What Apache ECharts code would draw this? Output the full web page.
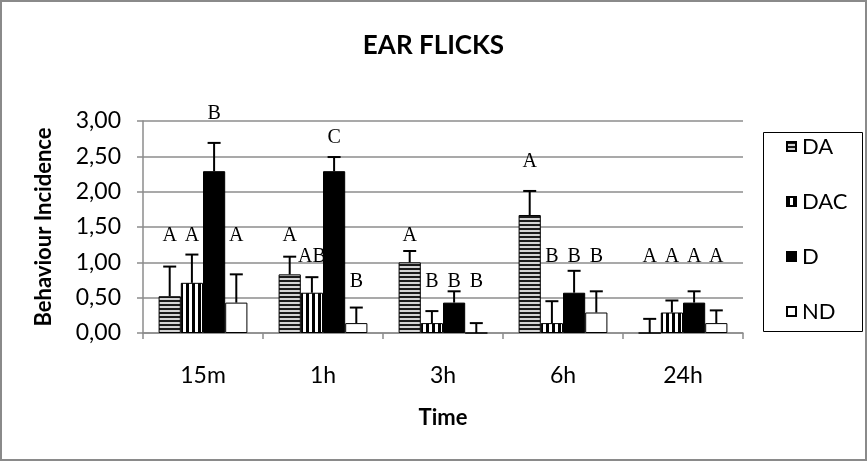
<!DOCTYPE html>
<html>
<head>
<meta charset="utf-8">
<script src="https://cdn.jsdelivr.net/npm/echarts@6/dist/echarts.min.js"></script>
<style>
  html, body { margin: 0; padding: 0; background: #fff; }
  #chart { width: 867px; height: 461px; }
</style>
</head>
<body>
<div id="chart"></div>
<script>
// Ear flick incidence per treatment group over time
const categories = ['15m', '1h', '3h', '6h', '24h'];
const groupNames = ['DA', 'DAC', 'D', 'ND'];
const yTicks = [0, 0.5, 1, 1.5, 2, 2.5, 3];

const daValues  = [0.52, 0.83, 1.00, 1.67, 0.00];
const dacValues = [0.71, 0.57, 0.14, 0.14, 0.29];
const dValues   = [2.29, 2.29, 0.43, 0.57, 0.43];
const ndValues  = [0.43, 0.14, 0.00, 0.29, 0.14];

// upper error (SD) added on top of each bar
const daErrors  = [0.42, 0.25, 0.16, 0.34, 0.20];
const dacErrors = [0.40, 0.22, 0.17, 0.31, 0.17];
const dErrors   = [0.40, 0.20, 0.16, 0.31, 0.16];
const ndErrors  = [0.40, 0.22, 0.14, 0.30, 0.18];

// significance letters and the height at which each one is written
const daLetters  = ['A', 'A', 'A', 'A', 'A'];
const dacLetters = ['A', 'AB', 'B', 'B', 'A'];
const dLetters   = ['B', 'C', 'B', 'B', 'A'];
const ndLetters  = ['A', 'B', 'B', 'B', 'A'];
const daLetterY  = [1.38, 1.38, 1.38, 2.42, 1.08];
const dacLetterY = [1.38, 1.08, 0.72, 1.08, 1.08];
const dLetterY   = [3.10, 2.77, 0.72, 1.08, 1.08];
const ndLetterY  = [1.38, 0.72, 0.72, 1.08, 1.08];

const CAT_GAP = 0.26;
const N_BARS = 4;
const UI_FONT = 'Lato, "Open Sans", sans-serif';

function makePattern(kind) {
  const c = document.createElement('canvas');
  const ctx = c.getContext('2d');
  if (kind === 'h') {
    c.width = 4; c.height = 4;
    ctx.fillStyle = '#d4d4d4'; ctx.fillRect(0, 0, 4, 4);
    ctx.fillStyle = '#1a1a1a'; ctx.fillRect(0, 0, 4, 2);
  } else {
    c.width = 6; c.height = 6;
    ctx.fillStyle = '#ffffff'; ctx.fillRect(0, 0, 6, 6);
    ctx.fillStyle = '#000000'; ctx.fillRect(0, 0, 3, 6);
  }
  return { image: c, repeat: 'repeat' };
}

const fills = [makePattern('h'), makePattern('v'), '#000000', '#ffffff'];
const valueSets = [daValues, dacValues, dValues, ndValues];
const errorSets = [daErrors, dacErrors, dErrors, ndErrors];
const letterSets = [daLetters, dacLetters, dLetters, ndLetters];
const letterYSets = [daLetterY, dacLetterY, dLetterY, ndLetterY];

function barOffset(api, k) {
  const band = api.size([1, 0])[0];
  const w = band * (1 - CAT_GAP) / N_BARS;
  return { dx: (k - (N_BARS - 1) / 2) * w, w: w };
}

const series = [];
groupNames.forEach((name, k) => {
  series.push({
    name: name,
    type: 'bar',
    data: valueSets[k],
    barGap: '0%',
    barCategoryGap: (CAT_GAP * 100) + '%',
    itemStyle: { color: fills[k], borderColor: '#000', borderWidth: 1 },
    emphasis: { disabled: true },
    z: 2
  });
});

// error bars (upper whisker with a cap)
groupNames.forEach((name, k) => {
  series.push({
    type: 'custom',
    name: name + '-err',
    data: valueSets[k].map((v, i) => [i, v, v + errorSets[k][i]]),
    clip: false,
    z: 3,
    renderItem: function (params, api) {
      const o = barOffset(api, k);
      const p0 = api.coord([api.value(0), api.value(1)]);
      const p1 = api.coord([api.value(0), api.value(2)]);
      const x = p0[0] + o.dx;
      const half = 6.5;
      return {
        type: 'group',
        children: [
          { type: 'line', shape: { x1: x, y1: p0[1], x2: x, y2: p1[1] },
            style: { stroke: '#000', lineWidth: 2 } },
          { type: 'line', shape: { x1: x - half, y1: p1[1], x2: x + half, y2: p1[1] },
            style: { stroke: '#000', lineWidth: 2 } }
        ]
      };
    }
  });
});

// significance letters above each bar
groupNames.forEach((name, k) => {
  series.push({
    type: 'custom',
    name: name + '-sig',
    data: letterYSets[k].map((y, i) => [i, y, letterSets[k][i]]),
    clip: false,
    z: 4,
    renderItem: function (params, api) {
      const o = barOffset(api, k);
      const p = api.coord([api.value(0), api.value(1)]);
      return {
        type: 'text',
        x: p[0] + o.dx,
        y: p[1],
        style: {
          text: letterSets[k][params.dataIndex],
          fill: '#000',
          font: '20px "Liberation Serif", "DejaVu Serif", serif',
          align: 'center',
          verticalAlign: 'middle'
        }
      };
    }
  });
});

const chart = echarts.init(document.getElementById('chart'), null, { renderer: 'canvas' });
chart.setOption({
  animation: false,
  backgroundColor: '#ffffff',
  title: {
    text: 'EAR FLICKS',
    left: 'center',
    top: 28,
    textStyle: { fontFamily: UI_FONT, fontWeight: 'bold', fontSize: 26, color: '#000' }
  },
  grid: { left: 143, right: 124, top: 121, bottom: 128, containLabel: false },
  legend: {
    data: groupNames,
    orient: 'vertical',
    left: 781,
    top: 130,
    itemWidth: 9,
    itemHeight: 9,
    itemGap: 32,
    icon: 'rect',
    selectedMode: false,
    textStyle: { fontFamily: UI_FONT, fontSize: 22, color: '#000', lineHeight: 23, padding: [0, 0, 0, 1] }
  },
  xAxis: {
    type: 'category',
    data: categories,
    name: 'Time',
    nameLocation: 'middle',
    nameGap: 74,
    nameTextStyle: { fontFamily: UI_FONT, fontWeight: 'bold', fontSize: 22, color: '#000' },
    axisLine: { lineStyle: { color: '#8c8c8c', width: 1.5 } },
    axisTick: { show: true, length: 6, lineStyle: { color: '#8c8c8c', width: 1.5 } },
    axisLabel: { margin: 31, fontFamily: UI_FONT, fontSize: 23, color: '#000' }
  },
  yAxis: {
    type: 'value',
    min: yTicks[0],
    max: yTicks[yTicks.length - 1],
    interval: yTicks[1] - yTicks[0],
    name: 'Behaviour Incidence',
    nameLocation: 'middle',
    nameGap: 88,
    nameRotate: 90,
    nameTextStyle: { fontFamily: UI_FONT, fontWeight: 'bold', fontSize: 22, color: '#000' },
    axisLine: { show: true, lineStyle: { color: '#8c8c8c', width: 1.5 } },
    axisTick: { show: true, length: 6, lineStyle: { color: '#8c8c8c', width: 1.5 } },
    splitLine: { lineStyle: { color: '#8c8c8c', width: 1.5 } },
    axisLabel: {
      margin: 22, fontFamily: UI_FONT, fontSize: 23, color: '#000',
      formatter: v => v.toFixed(2).replace('.', ',')
    }
  },
  graphic: [
    { type: 'rect', shape: { x: 1, y: 1, width: 865, height: 459 },
      style: { fill: 'none', stroke: '#8a8a8a', lineWidth: 2 }, silent: true, z: 0 },
    { type: 'rect', shape: { x: 763.5, y: 132.5, width: 99, height: 199 },
      style: { fill: 'none', stroke: '#000', lineWidth: 1 }, silent: true, z: 0 }
  ],
  series: series
});
</script>
</body>
</html>
